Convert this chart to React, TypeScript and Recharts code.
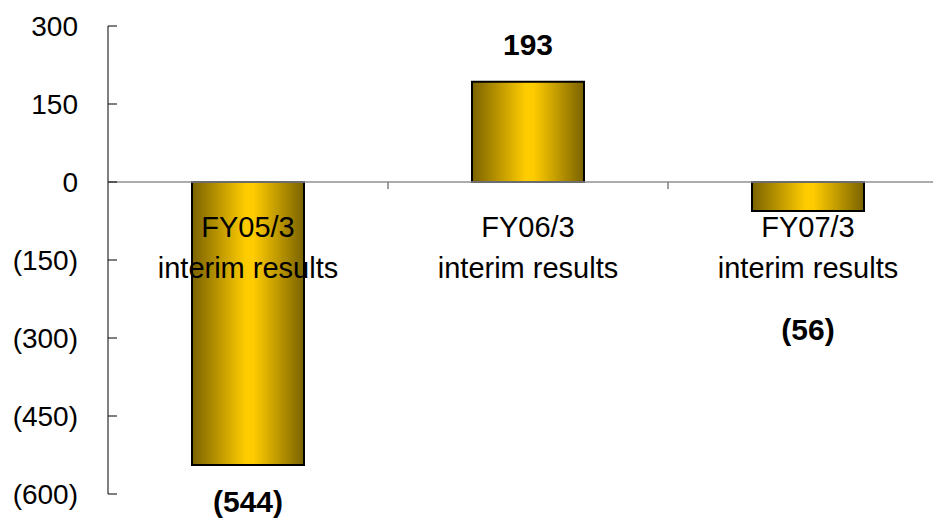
import { BarChart, Bar, XAxis, YAxis, ReferenceLine, LabelList } from "recharts";

const categories = ["FY05/3", "FY06/3", "FY07/3"];
const subtitles = ["interim results", "interim results", "interim results"];
const values = [-544, 193, -56];
const yTicks = [-600, -450, -300, -150, 0, 150, 300];

const data = categories.map((name, i) => ({ name, sub: subtitles[i], value: values[i] }));

const FONT = '"Liberation Sans", Arial, sans-serif';
const GAP = 0.3;

const fmt = (v: number) => (v < 0 ? `(${Math.abs(v)})` : `${v}`);

// bar geometry -> zero line + end of bar (height may be negative for negative values)
function ends(p: any) {
  const y1 = Number(p.y);
  const y2 = Number(p.y) + Number(p.height);
  const v = Number(p.value);
  return {
    zero: v >= 0 ? Math.max(y1, y2) : Math.min(y1, y2),
    end: v >= 0 ? Math.min(y1, y2) : Math.max(y1, y2),
  };
}

const YTick = (props: any) => {
  const { x, y, payload } = props;
  return (
    <g>
      <line x1={x + 30} x2={x + 39} y1={y} y2={y} stroke="#000" strokeWidth={1} />
      <text x={x} y={y + 10} textAnchor="end" fontFamily={FONT} fontSize={28} fill="#000">
        {fmt(payload.value)}
      </text>
    </g>
  );
};

const CategoryLabel = (props: any) => {
  const { x, width, index } = props;
  const v = values[index];
  const { zero } = ends({ ...props, value: v });
  const cx = x + width / 2;
  const band = width / (1 - 2 * GAP);
  return (
    <g>
      <line x1={cx + band / 2} x2={cx + band / 2} y1={zero} y2={zero + 7} stroke="#808080" strokeWidth={1.5} />
      <text x={cx} y={zero + 55} textAnchor="middle" fontFamily={FONT} fontSize={29} fill="#000">
        {categories[index]}
      </text>
      <text x={cx} y={zero + 96} textAnchor="middle" fontFamily={FONT} fontSize={29} fill="#000">
        {subtitles[index]}
      </text>
    </g>
  );
};

const ValueLabel = (props: any) => {
  const { x, width, value } = props;
  const v = Number(value);
  const { zero, end } = ends(props);
  const cx = x + width / 2;
  const center = v >= 0 ? end - 38 : Math.max(end + 36, zero + 147);
  return (
    <text x={cx} y={center + 11} textAnchor="middle" fontFamily={FONT} fontSize={30} fontWeight="bold" fill="#000">
      {fmt(v)}
    </text>
  );
};

export default function App() {
  return (
    <div style={{ position: "absolute", left: 0, top: 0, width: 933, height: 518, overflow: "hidden", background: "#fff" }}>
      <BarChart
        width={960}
        height={518}
        data={data}
        margin={{ top: 26, right: 12, bottom: 24, left: 0 }}
        barCategoryGap={`${GAP * 100}%`}
      >
        <defs>
          <linearGradient id="gold" x1="0" y1="0" x2="1" y2="0">
            <stop offset="0%" stopColor="#7a6200" />
            <stop offset="48%" stopColor="#ffcc00" />
            <stop offset="55%" stopColor="#ffcc00" />
            <stop offset="100%" stopColor="#7a6200" />
          </linearGradient>
        </defs>
        <XAxis dataKey="name" hide />
        <YAxis
          width={108}
          domain={[-600, 300]}
          ticks={yTicks}
          interval={0}
          tickSize={0}
          tickMargin={30}
          tickLine={false}
          axisLine={{ stroke: "#808080", strokeWidth: 2 }}
          tick={<YTick />}
        />
        <ReferenceLine y={0} stroke="#909090" strokeWidth={1.5} />
        <Bar dataKey="value" fill="url(#gold)" stroke="#000" strokeWidth={2} isAnimationActive={false}>
          <LabelList dataKey="name" content={(p: any) => <CategoryLabel {...p} />} />
          <LabelList dataKey="value" content={(p: any) => <ValueLabel {...p} />} />
        </Bar>
      </BarChart>
    </div>
  );
}
